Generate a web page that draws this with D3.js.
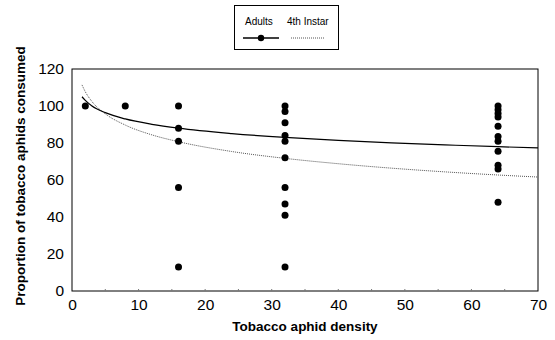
<!DOCTYPE html>
<html>
<head>
<meta charset="utf-8">
<script src="https://cdn.jsdelivr.net/npm/d3@7"></script>
<style>
  body { margin: 0; background: #fff; }
  text { font-family: "Liberation Sans", Arial, sans-serif; }
</style>
</head>
<body>
<div id="chartDiv"></div>
<script>
var width = 555,
    height = 340;

// observed points (density, % consumed) for adults
var adultX = [2, 8, 16, 16, 16, 16, 16,
              32, 32, 32, 32, 32, 32, 32, 32, 32, 32,
              64, 64, 64, 64, 64, 64, 64, 64, 64, 64, 64];
var adultY = [100, 100, 100, 88, 81, 56, 13,
              100, 97, 91, 84, 81, 72, 56, 47, 41, 13,
              100, 98, 96, 94, 89, 83.5, 81, 75.5, 68, 66, 48];

// fitted curves
var curveX = [1.5, 2, 3, 5, 8, 12, 16, 24, 32, 40, 48, 56, 64, 70];
var adultCurve = [105, 103, 100, 96.4, 93, 90.1, 88, 85.1, 83, 81.4, 80.1, 79, 78, 77.4];
var instarCurve = [111.4, 107.7, 102.4, 95.8, 89.7, 84.4, 80.7, 75.4, 71.7, 68.8, 66.4, 64.4, 62.7, 61.6];

var xTicks = [0, 10, 20, 30, 40, 50, 60, 70];
var yTicks = [0, 20, 40, 60, 80, 100, 120];

var margin = {left: 72, right: 17, top: 69, bottom: 49};

var svg = d3.select("#chartDiv")
    .append("svg")
    .attr("width", width)
    .attr("height", height);

var x = d3.scaleLinear().domain([0, 70]).range([margin.left, width - margin.right]);
var y = d3.scaleLinear().domain([0, 120]).range([height - margin.bottom, margin.top]);

// frame
svg.append("rect")
    .attr("x", x(0)).attr("y", y(120))
    .attr("width", x(70) - x(0)).attr("height", y(0) - y(120))
    .attr("fill", "none").attr("stroke", "#000").attr("stroke-width", 1);

// x axis labels, small inward ticks
var xAxis = svg.append("g")
    .attr("transform", "translate(0," + y(0) + ")")
    .call(d3.axisBottom(x).tickValues(xTicks).tickSize(0).tickPadding(8));
xAxis.select(".domain").remove();
xAxis.selectAll("text").attr("font-size", 15.5).attr("fill", "#000")
    .attr("font-family", "Liberation Sans, Arial, sans-serif");

svg.append("g").selectAll("line")
    .data(d3.range(5, 70, 5))
    .enter().append("line")
    .attr("x1", function (d) { return x(d); })
    .attr("x2", function (d) { return x(d); })
    .attr("y1", y(0)).attr("y2", y(0) - 2)
    .attr("stroke", "#777");

var yAxis = svg.append("g")
    .attr("transform", "translate(" + x(0) + ",0)")
    .call(d3.axisLeft(y).tickValues(yTicks).tickSize(0).tickPadding(8));
yAxis.select(".domain").remove();
yAxis.selectAll("text").attr("font-size", 15.5).attr("fill", "#000")
    .attr("font-family", "Liberation Sans, Arial, sans-serif");

// axis titles
svg.append("text")
    .attr("x", (x(0) + x(70)) / 2)
    .attr("y", 331)
    .attr("text-anchor", "middle")
    .attr("font-size", 13.5).attr("font-weight", "bold")
    .text("Tobacco aphid density");

svg.append("text")
    .attr("transform", "translate(25," + (y(60) - 4) + ") rotate(-90)")
    .attr("text-anchor", "middle")
    .attr("font-size", 13.5).attr("font-weight", "bold")
    .text("Proportion of tobacco aphids consumed");

// curves
var line = d3.line()
    .x(function (d) { return x(d[0]); })
    .y(function (d) { return y(d[1]); })
    .curve(d3.curveMonotoneX);

svg.append("path")
    .attr("d", line(d3.zip(curveX, instarCurve)))
    .attr("fill", "none").attr("stroke", "#555")
    .attr("stroke-width", 1).attr("stroke-dasharray", "1,1");

svg.append("path")
    .attr("d", line(d3.zip(curveX, adultCurve)))
    .attr("fill", "none").attr("stroke", "#000")
    .attr("stroke-width", 1.2);

// points
svg.append("g").selectAll("circle")
    .data(d3.zip(adultX, adultY))
    .enter().append("circle")
    .attr("cx", function (d) { return x(d[0]); })
    .attr("cy", function (d) { return y(d[1]); })
    .attr("r", 3.5)
    .attr("fill", "#000");

// legend
var legend = svg.append("g");
legend.append("rect")
    .attr("x", 234.5).attr("y", 5.5).attr("width", 104).attr("height", 44)
    .attr("fill", "#fff").attr("stroke", "#000");
legend.append("text").attr("x", 245).attr("y", 25).attr("font-size", 10).text("Adults");
legend.append("text").attr("x", 287).attr("y", 25).attr("font-size", 10).text("4th Instar");
legend.append("line")
    .attr("x1", 243).attr("x2", 279).attr("y1", 38).attr("y2", 38)
    .attr("stroke", "#000").attr("stroke-width", 1.5);
legend.append("circle").attr("cx", 261).attr("cy", 38).attr("r", 3.2).attr("fill", "#000");
legend.append("line")
    .attr("x1", 291).attr("x2", 324).attr("y1", 38).attr("y2", 38)
    .attr("stroke", "#555").attr("stroke-width", 1).attr("stroke-dasharray", "1,1");
</script>
</body>
</html>
